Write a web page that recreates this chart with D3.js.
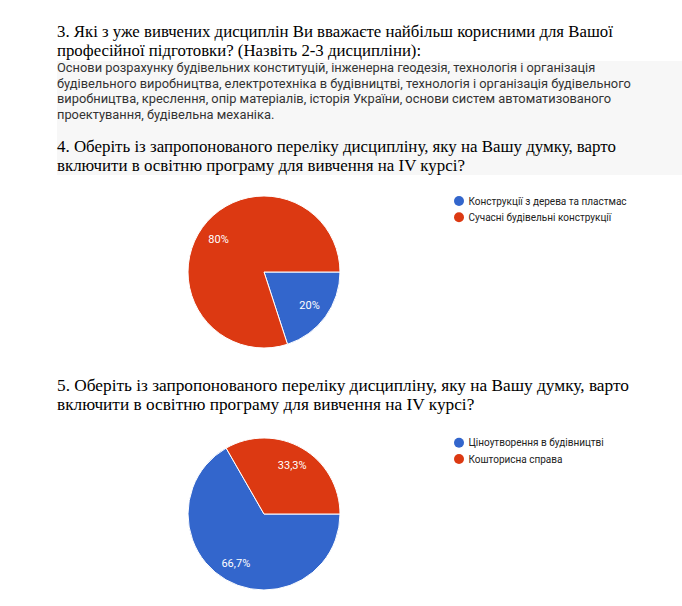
<!DOCTYPE html>
<html>
<head>
<meta charset="utf-8">
<script src="https://cdn.jsdelivr.net/npm/d3@7"></script>
<style>
  body { margin: 0; background: #fff; }
  .heading { font-family: "Liberation Serif", "Times New Roman", serif; fill: #000; }
  .answer { font-family: Roboto, sans-serif; fill: #333; }
  .legend { font-family: Roboto, sans-serif; font-size: 10px; fill: #222; }
  .slice-label { font-family: Roboto, sans-serif; font-size: 11px; fill: #fff; }
</style>
</head>
<body>
<div id="chart"></div>
<script>
// question texts
var q3Lines = [
  "3. Які з уже вивчених дисциплін Ви вважаєте найбільш корисними для Вашої",
  "професійної підготовки? (Назвіть 2-3 дисципліни):"
];
var answerLines = [
  "Основи розрахунку будівельних конституцій, інженерна геодезія, технологія і організація",
  "будівельного виробництва, електротехніка в будівництві, технологія і організація будівельного",
  "виробництва, креслення, опір матеріалів, історія України, основи систем автоматизованого",
  "проектування, будівельна механіка."
];
var q4Lines = [
  "4. Оберіть із запропонованого переліку дисципліну, яку на Вашу думку, варто",
  "включити в освітню програму для вивчення на IV курсі?"
];
var q5Lines = [
  "5. Оберіть із запропонованого переліку дисципліну, яку на Вашу думку, варто",
  "включити в освітню програму для вивчення на IV курсі?"
];

// pie data
var pie1Labels = ["Конструкції з дерева та пластмас", "Сучасні будівельні конструкції"];
var pie1Values = [20, 80];
var pie1Text = ["20%", "80%"];

var pie2Labels = ["Ціноутворення в будівництві", "Кошторисна справа"];
var pie2Values = [66.7, 33.3];
var pie2Text = ["66,7%", "33,3%"];

var sliceColors = ["#3366cc", "#dc3912"];

var width = 682, height = 606;

var svg = d3.select("#chart").append("svg")
    .attr("width", width)
    .attr("height", height);

//--------------------------------------------------------------------------
// answer box (grey panel behind question 3 answer and question 4)
svg.append("rect")
    .attr("x", 57)
    .attr("y", 61)
    .attr("width", width - 57)
    .attr("height", 114)
    .attr("fill", "#f7f7f7");

// one text element per block, one tspan per line
function textBlock(lines, cls, x, y0, step, size) {
  svg.append("text")
    .attr("class", cls)
    .attr("x", x)
    .attr("y", y0)
    .style("font-size", size + "px")
    .selectAll("tspan")
    .data(lines)
    .join("tspan")
    .attr("x", x)
    .attr("dy", function(d, i) { return i === 0 ? 0 : step; })
    .text(function(d) { return d; });
}

textBlock(q3Lines, "heading", 57, 37, 18.7, 16.8);
textBlock(answerLines, "answer", 57, 72, 15.7, 12.85);
textBlock(q4Lines, "heading", 57, 152.3, 18.7, 16.9);
textBlock(q5Lines, "heading", 57, 390.5, 19.2, 17.3);

//--------------------------------------------------------------------------
// pies
function drawPie(values, texts, labels, cx, cy, legendY) {
  var r = 76;
  var pie = d3.pie().sort(null)
      .startAngle(Math.PI / 2)
      .endAngle(Math.PI / 2 + 2 * Math.PI);
  var arc = d3.arc().innerRadius(0).outerRadius(r);
  var labelArc = d3.arc().innerRadius(r * 0.74).outerRadius(r * 0.74);
  var color = d3.scaleOrdinal().domain(labels).range(sliceColors);

  var g = svg.append("g").attr("transform", "translate(" + cx + "," + cy + ")");
  var arcs = pie(values);

  g.selectAll("path")
    .data(arcs)
    .join("path")
    .attr("d", arc)
    .attr("fill", function(d, i) { return color(labels[i]); })
    .attr("stroke", "#fff")
    .attr("stroke-width", 1);

  g.selectAll("text")
    .data(arcs)
    .join("text")
    .attr("class", "slice-label")
    .attr("transform", function(d) { return "translate(" + labelArc.centroid(d) + ")"; })
    .attr("text-anchor", "middle")
    .attr("dy", "0.35em")
    .text(function(d, i) { return texts[i]; });

  var legend = svg.append("g").attr("transform", "translate(459," + legendY + ")");
  var item = legend.selectAll("g")
    .data(labels)
    .join("g")
    .attr("transform", function(d, i) { return "translate(0," + (i * 16.3) + ")"; });
  item.append("circle")
    .attr("r", 5)
    .attr("fill", function(d) { return color(d); });
  item.append("text")
    .attr("class", "legend")
    .attr("x", 9.5)
    .attr("dy", "0.35em")
    .text(function(d) { return d; });
}

drawPie(pie1Values, pie1Text, pie1Labels, 264, 272, 201);
drawPie(pie2Values, pie2Text, pie2Labels, 264, 514, 442.7);
</script>
</body>
</html>
